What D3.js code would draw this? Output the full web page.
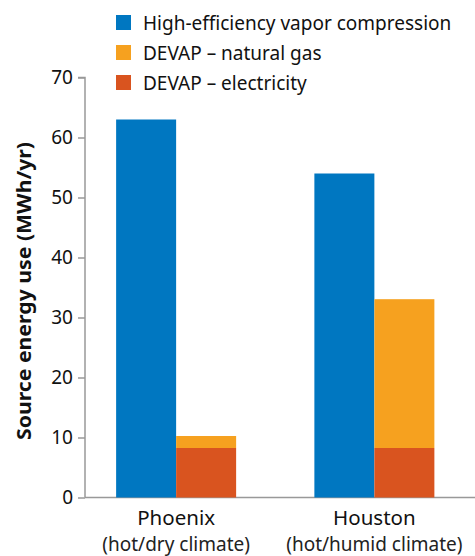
<!DOCTYPE html>
<html><head><meta charset="utf-8">
<script src="https://cdn.jsdelivr.net/npm/d3@7"></script>
<style>
body{margin:0;background:#fff;}
svg{display:block;font-family:"Noto Sans",sans-serif;}
</style></head>
<body><svg id="chart" width="475" height="556"></svg>
<script>
const cities = ["Phoenix", "Houston"];
const citySub = ["(hot/dry climate)", "(hot/humid climate)"];
const seriesNames = ["High-efficiency vapor compression", "DEVAP – natural gas", "DEVAP – electricity"];
const colors = ["#0077c1", "#f6a11f", "#d9541f"];
const hvc = [63, 54];
const devapGas = [2, 24.8];
const devapElec = [8.25, 8.25];
const yTicks = [0, 10, 20, 30, 40, 50, 60, 70];

const svg = d3.select("#chart");
const x = d3.scaleBand().domain(cities).range([77, 473.5]);
const barW = 60;
const y = d3.scaleLinear().domain([0, 70]).range([497.5, 77.5]);

// y axis
const yAxis = d3.axisLeft(y).tickValues(yTicks).tickSize(7).tickPadding(5);
const ya = svg.append("g").attr("transform", "translate(85,0)").call(yAxis);
ya.select(".domain").attr("stroke", "#999").attr("stroke-width", 1.5).attr("d", "M-7,77.5H0V497.5");
ya.selectAll(".tick line").attr("stroke", "#999").attr("stroke-width", 1.5);
ya.selectAll(".tick text").attr("fill", "#111").attr("font-size", 19).attr("font-family", "Noto Sans");

// baseline
svg.append("line").attr("x1", 85).attr("x2", 475).attr("y1", y(0)).attr("y2", y(0))
  .attr("stroke", "#999").attr("stroke-width", 1.5);

// bars
cities.forEach((c, i) => {
  const cx = x(c) + x.bandwidth() / 2;
  svg.append("rect").attr("x", cx - barW).attr("width", barW)
    .attr("y", y(hvc[i])).attr("height", y(0) - y(hvc[i])).attr("fill", colors[0]);
  const e = devapElec[i], g = devapGas[i];
  svg.append("rect").attr("x", cx).attr("width", barW)
    .attr("y", y(e + g)).attr("height", y(e) - y(e + g)).attr("fill", colors[1]);
  svg.append("rect").attr("x", cx).attr("width", barW)
    .attr("y", y(e)).attr("height", y(0) - y(e)).attr("fill", colors[2]);
  svg.append("text").attr("x", cx).attr("y", 524.5).attr("text-anchor", "middle")
    .attr("font-size", 20.5).attr("fill", "#111").text(c);
  svg.append("text").attr("x", cx).attr("y", 550.5).attr("text-anchor", "middle")
    .attr("font-size", 19).attr("fill", "#222").text(citySub[i]);
});

// y title
svg.append("text").attr("transform", "translate(31,291) rotate(-90)")
  .attr("text-anchor", "middle").attr("font-size", 20).attr("font-weight", "bold")
  .attr("textLength", 298).attr("lengthAdjust", "spacingAndGlyphs")
  .attr("fill", "#111").text("Source energy use (MWh/yr)");

// legend
const lg = svg.append("g");
seriesNames.forEach((s, i) => {
  lg.append("rect").attr("x", 116).attr("y", 15 + i * 30).attr("width", 15).attr("height", 15).attr("fill", colors[i]);
  lg.append("text").attr("x", 143).attr("y", 29.5 + i * 30).attr("font-size", 19).attr("fill", "#111").text(s);
});
</script></body></html>
